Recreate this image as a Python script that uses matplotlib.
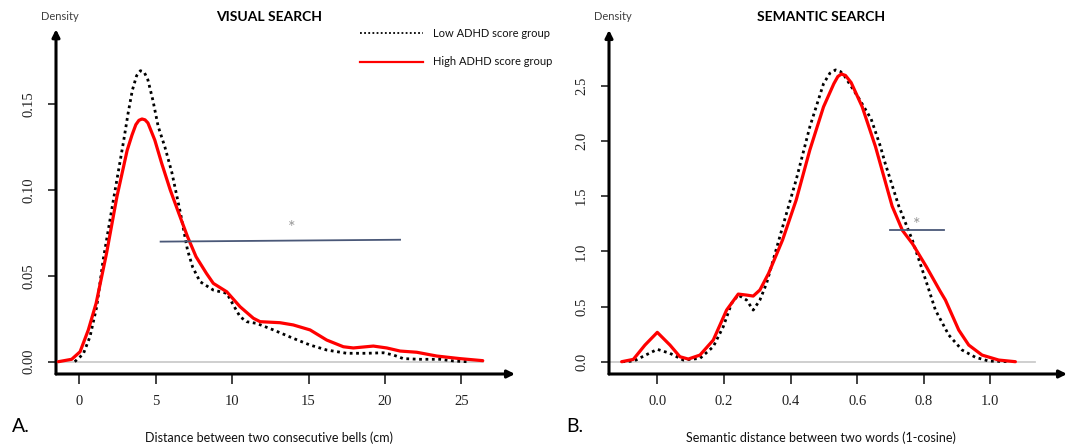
import matplotlib
matplotlib.use("Agg")
import matplotlib.pyplot as plt

# ---------------- data ----------------
# Visual search: distance between two consecutive bells (cm)
vs_low_x = [-0.3, 0.26, 0.7, 1.14, 1.56, 2.23, 2.91, 3.2, 3.47, 3.75, 4.0, 4.25, 4.49, 4.82, 5.16,
            5.6, 6.06, 6.63, 7.08, 7.42, 7.9, 8.77, 9.65, 10.08, 10.52, 10.95, 11.6, 12.7, 14.0,
            15.1, 16.19, 17.5, 18.8, 19.9, 20.55, 21.2, 22.3, 23.6, 24.5, 25.35]
vs_low_y = [0.0, 0.0045, 0.0146, 0.032, 0.0592, 0.0941, 0.129, 0.145, 0.158, 0.1665, 0.1694,
            0.1685, 0.164, 0.152, 0.137, 0.125, 0.110, 0.086, 0.065, 0.055, 0.0466, 0.0417,
            0.0398, 0.033, 0.0262, 0.0233, 0.0223, 0.0185, 0.0136, 0.0097, 0.0068, 0.0049,
            0.0049, 0.0052, 0.0039, 0.0018, 0.0014, 0.0014, 0.0004, 0.0]
vs_high_x = [-1.37, -0.5, 0.05, 0.59, 1.1, 1.78, 2.46, 3.13, 3.45, 3.7, 3.9, 4.1, 4.3, 4.49, 4.94,
             5.39, 5.95, 6.51, 7.08, 7.64, 8.32, 8.77, 9.65, 10.52, 11.39, 11.83, 13.13, 14.0,
             15.1, 16.19, 17.28, 17.93, 19.24, 20.12, 20.99, 22.08, 23.39, 24.9, 26.4]
vs_high_y = [0.0, 0.0014, 0.0058, 0.0185, 0.034, 0.063, 0.096, 0.123, 0.132, 0.138, 0.1405, 0.1413,
             0.1408, 0.139, 0.129, 0.1155, 0.100, 0.0864, 0.0728, 0.0611, 0.0514, 0.0456, 0.0407,
             0.032, 0.0253, 0.0233, 0.0227, 0.0214, 0.0185, 0.0126, 0.0087, 0.008, 0.0091, 0.008,
             0.0062, 0.0055, 0.0033, 0.0018, 0.0006]

# Semantic search: semantic distance between two words (1-cosine)
ss_low_x = [-0.105, -0.07, -0.035, 0.0, 0.038, 0.078, 0.128, 0.168, 0.198, 0.223, 0.243, 0.268,
            0.288, 0.308, 0.328, 0.376, 0.417, 0.458, 0.499, 0.518, 0.535, 0.55, 0.562, 0.605,
            0.642, 0.67, 0.684, 0.725, 0.766, 0.808, 0.835, 0.875, 0.915, 0.955, 0.995, 1.057]
ss_low_y = [0.0, 0.006, 0.06, 0.112, 0.076, 0.015, 0.03, 0.136, 0.317, 0.529, 0.604, 0.559, 0.468,
            0.559, 0.71, 1.22, 1.65, 2.13, 2.52, 2.615, 2.645, 2.63, 2.59, 2.388, 2.2, 1.95, 1.80,
            1.41, 1.10, 0.72, 0.468, 0.242, 0.106, 0.04, 0.006, 0.0]
ss_high_x = [-0.107, -0.072, -0.037, 0.0, 0.038, 0.068, 0.093, 0.128, 0.168, 0.208, 0.243, 0.268,
             0.288, 0.308, 0.334, 0.376, 0.417, 0.458, 0.499, 0.53, 0.542, 0.5525, 0.565, 0.582,
             0.615, 0.655, 0.705, 0.736, 0.766, 0.808, 0.849, 0.865, 0.905, 0.935, 0.975, 1.025,
             1.075]
ss_high_y = [0.0, 0.021, 0.151, 0.266, 0.151, 0.045, 0.024, 0.06, 0.196, 0.468, 0.613, 0.604, 0.595,
             0.65, 0.8, 1.103, 1.466, 1.92, 2.31, 2.52, 2.585, 2.608, 2.595, 2.53, 2.312, 1.95,
             1.41, 1.19, 1.07, 0.86, 0.64, 0.559, 0.287, 0.151, 0.06, 0.015, 0.0]

vs_xticks = [0, 5, 10, 15, 20, 25]
vs_yticks = [0.00, 0.05, 0.10, 0.15]
vs_yticklabels = ["0.00", "0.05", "0.10", "0.15"]
ss_xticks = [0.0, 0.2, 0.4, 0.6, 0.8, 1.0]
ss_xticklabels = ["0.0", "0.2", "0.4", "0.6", "0.8", "1.0"]
ss_yticks = [0.0, 0.5, 1.0, 1.5, 2.0, 2.5]
ss_yticklabels = ["0.0", "0.5", "1.0", "1.5", "2.0", "2.5"]

vs_sig_x = [5.32, 20.99]
vs_sig_y = [0.0699, 0.0710]
vs_star = (13.9, 0.0805)
ss_sig_x = [0.70, 0.861]
ss_sig_y = [1.194, 1.194]
ss_star = (0.78, 1.279)

legend_labels = ["Low ADHD score group", "High ADHD score group"]

# ---------------- figure ----------------
W, H = 1072, 447
fig = plt.figure(figsize=(W / 100, H / 100), dpi=100)

def fx(px):
    return px / W

def fy(py):
    return 1 - py / H

SANS = ["Lato", "DejaVu Sans"]
SERIF = ["Liberation Serif", "DejaVu Serif"]

def make_axes(left, right, top, bottom):
    return fig.add_axes([fx(left), fy(bottom), (right - left) / W, (bottom - top) / H])

LOW_STYLE = dict(color="black", lw=2.0, linestyle=(0, (1.0, 1.3)))
HIGH_STYLE = dict(color="#ff0000", lw=2.3, solid_capstyle="round", solid_joinstyle="round")

def style_axes(ax, xlim, ylim, xticks, xticklabels, yticks, yticklabels, zero_end):
    ax.set_xlim(*xlim)
    ax.set_ylim(*ylim)
    for s in ax.spines.values():
        s.set_visible(False)
    ax.set_facecolor("none")
    ax.set_xticks(xticks)
    ax.set_xticklabels(xticklabels, fontfamily=SERIF, fontsize=10.5, color="#222222")
    ax.set_yticks(yticks)
    ax.set_yticklabels(yticklabels, fontfamily=SERIF, fontsize=10.5, color="#222222",
                       rotation=90, va="center")
    ax.tick_params(axis="x", direction="out", length=7, width=1.3, color="#333333", pad=8)
    ax.tick_params(axis="y", direction="out", length=6, width=1.3, color="#333333", pad=9)
    # axis arrows
    arrow = dict(arrowstyle="-|>", lw=2.2, color="black", mutation_scale=11,
                 shrinkA=0, shrinkB=0)
    ax.annotate("", xy=(1, 0), xytext=(0, 0), xycoords="axes fraction",
                textcoords="axes fraction", arrowprops=arrow, annotation_clip=False)
    ax.annotate("", xy=(0, 1), xytext=(0, 0), xycoords="axes fraction",
                textcoords="axes fraction", arrowprops=arrow, annotation_clip=False)
    # zero reference line
    ax.plot([xlim[0], zero_end], [0, 0], color="#cccccc", lw=1.3, zorder=1)

def add_star(ax, pos):
    ax.annotate("*", xy=pos, xytext=(0, -3), textcoords="offset points", color="#999999",
                fontsize=13, ha="center", va="center", fontfamily=SANS)

# ----- left panel -----
axL = make_axes(56, 515, 29.3, 374)
style_axes(axL, (-1.525, 28.51), (-0.00716, 0.1935), vs_xticks, [str(t) for t in vs_xticks],
           vs_yticks, vs_yticklabels, 26.4)
axL.plot(vs_low_x, vs_low_y, zorder=3, **LOW_STYLE)
axL.plot(vs_high_x, vs_high_y, zorder=4, **HIGH_STYLE)
axL.plot(vs_sig_x, vs_sig_y, color="#4a5878", lw=1.3, zorder=5)
add_star(axL, vs_star)

# ----- right panel -----
axR = make_axes(609, 1067, 30, 374)
style_axes(axR, (-0.145, 1.230), (-0.1115, 3.007), ss_xticks, ss_xticklabels,
           ss_yticks, ss_yticklabels, 1.133)
axR.plot(ss_low_x, ss_low_y, zorder=3, **LOW_STYLE)
axR.plot(ss_high_x, ss_high_y, zorder=4, **HIGH_STYLE)
axR.plot(ss_sig_x, ss_sig_y, color="#4a5878", lw=1.3, zorder=5)
add_star(axR, ss_star)

# ----- texts -----
fig.text(fx(60), fy(17), "Density", ha="center", va="center", fontsize=8, color="#404040",
         fontfamily=SANS)
fig.text(fx(613), fy(17), "Density", ha="center", va="center", fontsize=8, color="#404040",
         fontfamily=SANS)
fig.text(fx(268.7), fy(17), "VISUAL SEARCH", ha="center", va="center", fontsize=10,
         fontweight="bold", color="black", fontfamily=SANS)
fig.text(fx(821.2), fy(17), "SEMANTIC SEARCH", ha="center", va="center", fontsize=10,
         fontweight="bold", color="black", fontfamily=SANS)
fig.text(fx(268.7), fy(438), "Distance between two consecutive bells (cm)", ha="center",
         va="center", fontsize=9, color="#111111", fontfamily=SANS)
fig.text(fx(821.3), fy(438), "Semantic distance between two words (1-cosine)", ha="center",
         va="center", fontsize=9, color="#111111", fontfamily=SANS)
fig.text(fx(12), fy(427), "A.", ha="left", va="center", fontsize=14, color="black",
         fontfamily=SANS)
fig.text(fx(566), fy(427), "B.", ha="left", va="center", fontsize=14, color="black",
         fontfamily=SANS)

# ----- legend (drawn manually in figure coords) -----
fig.add_artist(plt.Line2D([fx(360), fx(423.3)], [fy(33.3), fy(33.3)], color="black", lw=1.3,
                          linestyle=(0, (1.0, 1.3))))
fig.add_artist(plt.Line2D([fx(360), fx(423.3)], [fy(61.7), fy(61.7)], color="#ff0000", lw=1.6))
fig.text(fx(433.3), fy(33.3), legend_labels[0], ha="left", va="center", fontsize=8,
         color="#111111", fontfamily=SANS)
fig.text(fx(433.3), fy(61.7), legend_labels[1], ha="left", va="center", fontsize=8,
         color="#111111", fontfamily=SANS)

fig.savefig("out.png", dpi=100)
